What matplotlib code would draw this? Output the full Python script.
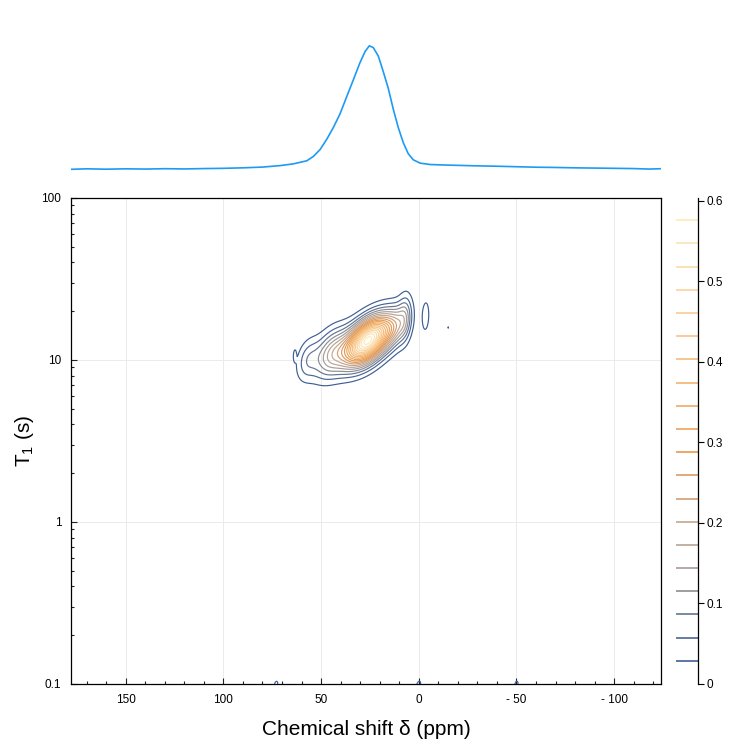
import numpy as np
import matplotlib
matplotlib.use("Agg")
import matplotlib.pyplot as plt
from matplotlib.ticker import FixedLocator, NullFormatter, LogLocator

plt.rcParams['font.family'] = ['Liberation Sans', 'DejaVu Sans']
plt.rcParams['mathtext.fontset'] = 'custom'
plt.rcParams['mathtext.rm'] = 'Liberation Sans'
plt.rcParams['mathtext.it'] = 'Liberation Sans'

# ---------------- data ----------------
# 1D projection spectrum (chemical shift ppm, normalized intensity)
spec_ppm = [178, 170, 160, 150, 140, 130, 120, 110, 100, 90, 80, 71.0, 64.2, 57.3,
            53.9, 50.5, 47.1, 43.7, 40.3, 36.9, 33.5, 30.1, 27.5, 25.3, 23.3, 20.7,
            18.2, 15.6, 13.1, 10.5, 7.9, 5.4, 2.8, -0.7, -5.8, -10.9, -20, -30, -40,
            -50, -60, -70, -80, -90, -100, -110, -118, -124]
spec_int = [-0.003, 0.001, -0.002, 0.001, -0.001, 0.002, 0.000, 0.003, 0.005, 0.009,
            0.015, 0.027, 0.041, 0.066, 0.102, 0.157, 0.240, 0.336, 0.446, 0.584,
            0.721, 0.860, 0.950, 0.997, 0.983, 0.914, 0.790, 0.653, 0.488, 0.336,
            0.212, 0.124, 0.074, 0.047, 0.036, 0.033, 0.029, 0.025, 0.022, 0.018,
            0.014, 0.012, 0.009, 0.007, 0.005, 0.003, -0.001, 0.002]

# 2D T1-shift distribution: components (amplitude, ppm centre, log10 T1 centre, widths)
comp_amp  = [0.59, 0.08, 0.15, 0.07, 0.08, 0.05, 0.032, 0.035, 0.040, 0.040, 0.040]
comp_ppm  = [26.0, 12.0, 45.0, 57.0, 7.0, -3.5, -15.0, 63.5, 73.0, 0.0, -50.0]
comp_logt = [1.12, 1.20, 1.04, 1.00, 1.26, 1.27, 1.20, 1.03, -1.0, -1.0, -1.0]
comp_sppm = [8.5, 4.0, 6.0, 4.0, 2.5, 1.5, 0.5, 0.6, 1.0, 1.2, 1.0]
comp_slog = [0.088, 0.08, 0.095, 0.085, 0.10, 0.075, 0.012, 0.03, 0.02, 0.02, 0.02]
tilt = -0.0065  # change of log10 T1 per ppm

levels = [0.0288 * k for k in range(1, 21)]
cbar_ticks = [0, 0.1, 0.2, 0.3, 0.4, 0.5, 0.6]
cbar_ticklabels = ["0", "0.1", "0.2", "0.3", "0.4", "0.5", "0.6"]
x_ticks = [150, 100, 50, 0, -50, -100]
x_ticklabels = ["150", "100", "50", "0", "- 50", "- 100"]
y_ticks = [0.1, 1, 10, 100]
y_ticklabels = ["0.1", "1", "10", "100"]

# ---------------- field ----------------
u = np.linspace(-124, 178, 700)
v = np.linspace(-1.1, 2.0, 700)
U, V = np.meshgrid(u, v)
Z = np.zeros_like(U)
for a, u0, v0, su, sv in zip(comp_amp, comp_ppm, comp_logt, comp_sppm, comp_slog):
    vp = V - v0 - tilt * (U - u0)
    Z += a * np.exp(-0.5 * ((U - u0) / su) ** 2 - 0.5 * (vp / sv) ** 2)

level_colors = ["#3e5f95", "#4a6695", "#647593", "#8d8e92", "#a59c98", "#b8a496",
                "#c6a68e", "#d49e74", "#dc9c64", "#e69a4e", "#eda35a", "#f0ac66",
                "#f2b470", "#f5bc7c", "#f7c486", "#f9cc92", "#fad49e", "#fbdcaa",
                "#fde3b4", "#fee9b8"]

# ---------------- figure ----------------
fig = plt.figure(figsize=(7.47, 7.47), dpi=100)
W = H = 747.0
def rect(x0, y0, x1, y1):
    return [x0 / W, 1 - y1 / H, (x1 - x0) / W, (y1 - y0) / H]

ax = fig.add_axes(rect(71, 198, 661, 684))
axt = fig.add_axes(rect(71, 30, 661, 185))
axc = fig.add_axes(rect(676, 198, 698, 684))

# main contour
ax.grid(True, which='major', color='#ebebeb', linewidth=0.7, zorder=0)
ax.contour(U, 10 ** V, Z, levels=levels, colors=level_colors, linewidths=0.85, zorder=2)
ax.set_yscale('log')
ax.set_xlim(178, -124)
ax.set_ylim(0.1, 100)
ax.set_xticks(x_ticks)
ax.set_xticklabels(x_ticklabels)
ax.xaxis.set_minor_locator(FixedLocator(np.arange(-120, 180, 10)))
ax.set_yticks(y_ticks)
ax.set_yticklabels(y_ticklabels)
ax.yaxis.set_minor_locator(LogLocator(base=10, subs=np.arange(2, 10)))
ax.yaxis.set_minor_formatter(NullFormatter())
ax.tick_params(which='both', direction='in', labelsize=8.5, width=0.8, color='#222222')
ax.tick_params(which='major', length=4, pad=7)
ax.tick_params(which='minor', length=2.5)
for s in ax.spines.values():
    s.set_linewidth(0.9)
ax.set_xlabel("Chemical shift δ (ppm)", fontsize=15, labelpad=10)
ax.set_ylabel("T$_1$ (s)", fontsize=15, labelpad=4)

# top spectrum
axt.plot(spec_ppm, spec_int, color='#1e9af5', linewidth=1.2, solid_joinstyle='round')
axt.set_xlim(178, -124)
axt.set_ylim(-0.13, 1.125)
axt.axis('off')

# colorbar with line levels
axc.hlines(levels, 0, 1, colors=level_colors, linewidth=1.2)
axc.set_xlim(0, 1)
axc.set_ylim(0, 0.6037)
axc.set_xticks([])
axc.yaxis.tick_right()
axc.set_yticks(cbar_ticks)
axc.set_yticklabels(cbar_ticklabels)
axc.tick_params(axis='y', direction='out', length=4, labelsize=8.5, pad=2)
for k in ['left', 'top', 'bottom']:
    axc.spines[k].set_visible(False)
axc.spines['right'].set_linewidth(0.9)

fig.savefig("out.png", dpi=100)
